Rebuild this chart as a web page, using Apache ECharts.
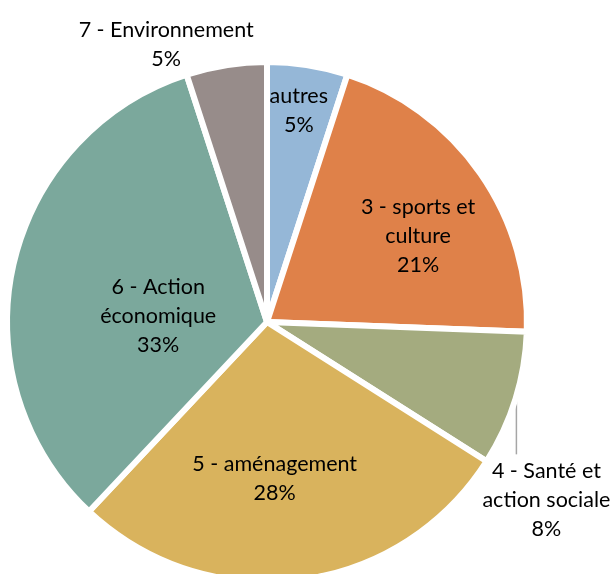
<!DOCTYPE html>
<html>
<head>
<meta charset="utf-8">
<script src="https://cdn.jsdelivr.net/npm/echarts@6/dist/echarts.min.js"></script>
<style>
  html, body { margin: 0; padding: 0; background: #fff; }
  #chart { width: 614px; height: 574px; }
</style>
</head>
<body>
<div id="chart"></div>
<script>
var categories = ['autres', '3 - sports et\nculture', '4 - Santé et\naction sociale', '5 - aménagement', '6 - Action\néconomique', '7 - Environnement'];
var values = [5, 20.6, 8.4, 28, 33, 5];
var colors = ['#95b7d7', '#df8149', '#a4ab7f', '#d9b35d', '#7ba89c', '#978c8a'];

// décalage des étiquettes par rapport à la position "inside"
var labelOffsets = [[11, -80], [42, -10], [0, 0], [-9, 25], [21, 23], [-80, -146]];

var cx = 267, cy = 322, r = 260;

var chart = echarts.init(document.getElementById('chart'));

var data = [];
for (var i = 0; i < values.length; i++) {
  var item = {
    name: categories[i],
    value: values[i],
    itemStyle: { color: colors[i] },
    label: { offset: labelOffsets[i] }
  };
  if (i === 2) {
    item.label = { position: 'outside' };
    item.labelLine = { show: true };
  }
  data.push(item);
}

var total = values.reduce(function(a, b) { return a + b; }, 0);

var option = {
  animation: false,
  series: [{
    type: 'pie',
    center: [cx, cy],
    radius: r,
    startAngle: 90,
    clockwise: true,
    avoidLabelOverlap: false,
    itemStyle: { borderColor: '#fff', borderWidth: 6 },
    label: {
      position: 'inside',
      color: '#000',
      fontFamily: 'Lato',
      fontSize: 21.5,
      lineHeight: 29,
      align: 'center',
      formatter: function(p) {
        return p.name + '\n' + Math.round(p.value / total * 100) + '%';
      }
    },
    labelLine: {
      show: false,
      lineStyle: { color: '#a6a6a6', width: 1.5 }
    },
    labelLayout: function(params) {
      if (params.dataIndex !== 2) return;
      var before = values[0] + values[1];
      var mid = (before + values[2] / 2) / total * Math.PI * 2;
      var px = cx + (r - 3) * Math.sin(mid);
      var py = cy - (r - 3) * Math.cos(mid);
      return {
        x: px + 34,
        y: py + 102,
        align: 'center',
        verticalAlign: 'middle',
        labelLinePoints: [[px + 4, py - 3], [px + 4, py + 28], [px + 4, py + 56]]
      };
    },
    data: data
  }]
};

chart.setOption(option);
</script>
</body>
</html>
